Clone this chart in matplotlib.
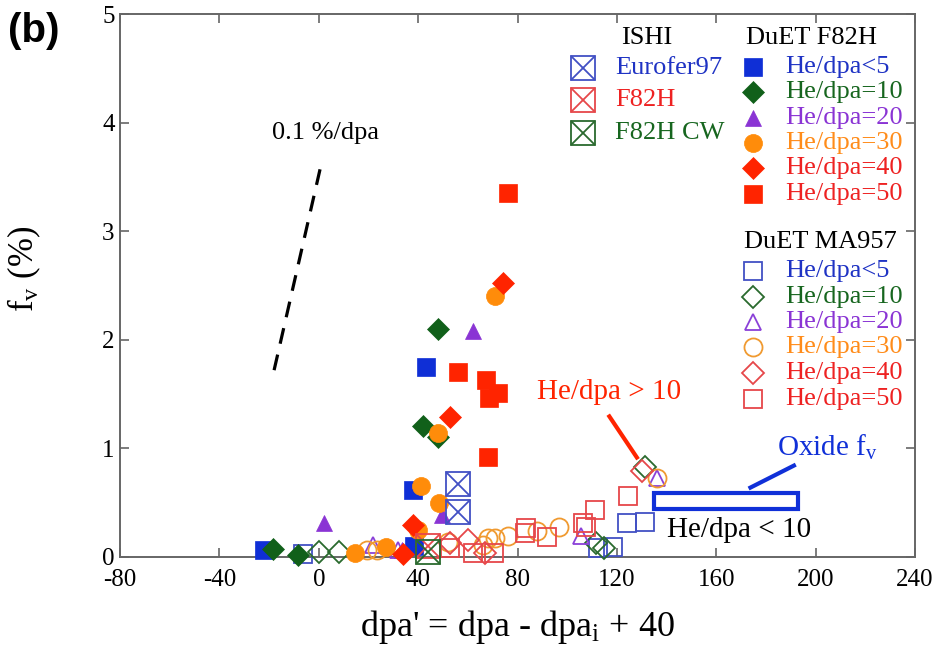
import matplotlib
matplotlib.use("Agg")
import matplotlib.pyplot as plt
from matplotlib.patches import Rectangle

plt.rcParams["font.family"] = ["Liberation Serif", "DejaVu Sans"]
plt.rcParams["mathtext.default"] = "regular"
plt.rcParams["axes.unicode_minus"] = False

# ---- DuET F82H (filled markers) ----
f82h_he5_x = [-22, 38.5, 38, 43]
f82h_he5_y = [0.06, 0.1, 0.62, 1.75]
f82h_he10_x = [-18.5, -8.5, 42, 48, 48]
f82h_he10_y = [0.07, 0.02, 1.21, 1.10, 2.10]
f82h_he20_x = [2, 33.5, 49.5, 62]
f82h_he20_y = [0.31, 0.06, 0.39, 2.08]
f82h_he30_x = [14.5, 27, 40, 41, 48.5, 48, 71]
f82h_he30_y = [0.04, 0.09, 0.25, 0.65, 0.50, 1.14, 2.40]
f82h_he40_x = [34, 38, 53, 74]
f82h_he40_y = [0.03, 0.29, 1.29, 2.52]
f82h_he50_x = [56, 67.5, 68.5, 72, 68, 76]
f82h_he50_y = [1.70, 1.63, 1.46, 1.51, 0.92, 3.35]

# ---- ISHI (crossed squares) ----
ishi_eurofer_x = [56, 56]
ishi_eurofer_y = [0.41, 0.67]
ishi_f82h_x = [44]
ishi_f82h_y = [0.10]
ishi_f82hcw_x = [44]
ishi_f82hcw_y = [0.05]

# ---- DuET MA957 (open markers) ----
ma_he5_x = [-6.5, 112.5, 118.5, 124, 131.5]
ma_he5_y = [0.03, 0.08, 0.09, 0.31, 0.32]
ma_he10_x = [0, 8, 111.5, 115, 131.5]
ma_he10_y = [0.05, 0.05, 0.13, 0.08, 0.83]
ma_he20_x = [22, 32, 105.5, 136]
ma_he20_y = [0.11, 0.06, 0.19, 0.73]
ma_he30_x = [19.5, 23.5, 52, 66, 68, 71, 76, 88, 96.5, 136]
ma_he30_y = [0.06, 0.06, 0.14, 0.11, 0.17, 0.17, 0.19, 0.24, 0.28, 0.73]
ma_he40_x = [53, 60, 67, 130]
ma_he40_y = [0.13, 0.16, 0.04, 0.79]
ma_he50_x = [53, 62, 70.5, 83, 83.5, 92, 106.5, 107.5, 111, 124.5]
ma_he50_y = [0.08, 0.04, 0.04, 0.22, 0.27, 0.18, 0.31, 0.28, 0.43, 0.56]

# ---- annotations ----
slope_line_x = [-18, 1]
slope_line_y = [1.72, 3.62]
high_he_arrow_x = [116.5, 128.5]
high_he_arrow_y = [1.31, 0.90]
oxide_box = (135, 0.44, 58, 0.15)
oxide_line_x = [173, 192]
oxide_line_y = [0.63, 0.85]

BLUE = "#0f2fd6"
GREEN = "#11601a"
PURPLE = "#8a34d4"
ORANGE = "#ff8c0a"
RED = "#ff2400"

O_BLUE = "#4250c4"
O_GREEN = "#2a6a2e"
O_PURPLE = "#8a40d8"
O_ORANGE = "#f09a30"
O_RED = "#e6474a"

filled_series = [
    (f82h_he5_x, f82h_he5_y, "s", 13, BLUE),
    (f82h_he10_x, f82h_he10_y, "D", 11, GREEN),
    (f82h_he20_x, f82h_he20_y, "^", 12, PURPLE),
    (f82h_he30_x, f82h_he30_y, "o", 13, ORANGE),
    (f82h_he40_x, f82h_he40_y, "D", 11, RED),
    (f82h_he50_x, f82h_he50_y, "s", 13, RED),
]
open_series = [
    (ma_he5_x, ma_he5_y, "s", 13, O_BLUE),
    (ma_he10_x, ma_he10_y, "D", 11, O_GREEN),
    (ma_he20_x, ma_he20_y, "^", 12, O_PURPLE),
    (ma_he30_x, ma_he30_y, "o", 13, O_ORANGE),
    (ma_he40_x, ma_he40_y, "D", 11, O_RED),
    (ma_he50_x, ma_he50_y, "s", 13, O_RED),
]
ishi_series = [
    (ishi_eurofer_x, ishi_eurofer_y, O_BLUE),
    (ishi_f82h_x, ishi_f82h_y, O_RED),
    (ishi_f82hcw_x, ishi_f82hcw_y, O_GREEN),
]

he_labels = ["He/dpa<5", "He/dpa=10", "He/dpa=20", "He/dpa=30", "He/dpa=40", "He/dpa=50"]
he_text_colors = ["#1f33c4", "#17661f", "#8a34d4", "#ff8c1a", "#ee2222", "#ee2222"]
ishi_labels = ["Eurofer97", "F82H", "F82H CW"]
ishi_text_colors = ["#1f33c4", "#ee2222", "#17661f"]


def draw_filled(ax, x, y, marker, size, color, **kw):
    ax.plot(x, y, linestyle="none", marker=marker, markersize=size, color=color,
            markeredgecolor=color, markeredgewidth=0.5, clip_on=False, **kw)


def draw_open(ax, x, y, marker, size, color, **kw):
    ax.plot(x, y, linestyle="none", marker=marker, markersize=size, markerfacecolor="none",
            markeredgecolor=color, markeredgewidth=1.3, clip_on=False, **kw)


def draw_crossed(ax, x, y, color, size=17, **kw):
    draw_open(ax, x, y, "s", size, color, **kw)
    ax.plot(x, y, linestyle="none", marker="x", markersize=size, markeredgecolor=color,
            markeredgewidth=1.3, clip_on=False, **kw)


fig = plt.figure(figsize=(9.38, 6.67), dpi=100)
ax = fig.add_axes([0.128, 0.165, 0.8475, 0.814])

for x, y, marker, size, color in open_series:
    draw_open(ax, x, y, marker, size, color, zorder=3)
for x, y, marker, size, color in filled_series:
    draw_filled(ax, x, y, marker, size, color, zorder=4)
for x, y, color in ishi_series:
    draw_crossed(ax, x, y, color, zorder=5)

# slope guide
ax.plot(slope_line_x, slope_line_y, color="black", linewidth=2.3, dashes=(5, 3.5))
ax.text(-19, 3.9, "0.1 %/dpa", fontsize=19, va="center", ha="left")

# annotations
ax.plot(high_he_arrow_x, high_he_arrow_y, color=RED, linewidth=3, solid_capstyle="butt")
ax.text(88, 1.52, "He/dpa > 10", fontsize=21, color=RED, va="center", ha="left")
bx, by, bw, bh = oxide_box
ax.add_patch(Rectangle((bx, by), bw, bh, fill=False, edgecolor="#1030d8", linewidth=3, zorder=6))
ax.plot(oxide_line_x, oxide_line_y, color="#1030d8", linewidth=3, solid_capstyle="butt")
ax.text(184.5, 1.01, "Oxide f$_{v}$", fontsize=21, color="#1030d8", va="center", ha="left")
ax.text(140, 0.25, "He/dpa < 10", fontsize=21, color="black", va="center", ha="left")


def legend_block(title, title_x, title_y, title_ha, marker_x, text_x, rows_y, labels, colors, draw):
    ax.text(title_x, title_y, title, fontsize=19, ha=title_ha, va="center", transform=ax.transAxes)
    for i, (label, color, y) in enumerate(zip(labels, colors, rows_y)):
        draw(i, y)
        ax.text(text_x, y, label, fontsize=19, color=color, ha="left", va="center",
                transform=ax.transAxes)


def ishi_marker(i, y):
    draw_crossed(ax, [0.582], [y], ishi_series[i][2], transform=ax.transAxes, zorder=6)


def f82h_marker(i, y):
    _, _, marker, size, color = filled_series[i]
    draw_filled(ax, [0.796], [y], marker, size, color, transform=ax.transAxes, zorder=6)


def ma_marker(i, y):
    _, _, marker, size, color = open_series[i]
    draw_open(ax, [0.796], [y], marker, size, color, transform=ax.transAxes, zorder=6)


legend_block("ISHI", 0.663, 0.956, "center", 0.582, 0.623,
             [0.901, 0.842, 0.781], ishi_labels, ishi_text_colors, ishi_marker)
legend_block("DuET F82H", 0.787, 0.956, "left", 0.796, 0.8365,
             [0.902, 0.856, 0.8085, 0.762, 0.716, 0.6685], he_labels, he_text_colors, f82h_marker)
legend_block("DuET MA957", 0.785, 0.580, "left", 0.796, 0.8365,
             [0.527, 0.479, 0.433, 0.387, 0.339, 0.291], he_labels, he_text_colors, ma_marker)

ax.set_xlim(-80, 240)
ax.set_ylim(0, 5)
ax.set_xticks(range(-80, 241, 40))
ax.set_yticks(range(0, 6))
ax.tick_params(direction="in", length=6.5, width=1.2, color="#666666", labelsize=18,
               top=True, right=True, pad=4)
ax.tick_params(axis="x", pad=9)
for spine in ax.spines.values():
    spine.set_color("#666666")
    spine.set_linewidth(1.4)

ax.set_xlabel("dpa' = dpa - dpa$_{i}$ + 40", fontsize=26, labelpad=12)
ax.set_ylabel("f$_{v}$ (%)", fontsize=25)
ax.yaxis.set_label_coords(-0.097, 0.53)

fig.text(0.008, 0.953, "(b)", fontsize=29, fontweight="bold", family="Liberation Sans",
         va="center", ha="left")

fig.savefig("out.png", dpi=100)
